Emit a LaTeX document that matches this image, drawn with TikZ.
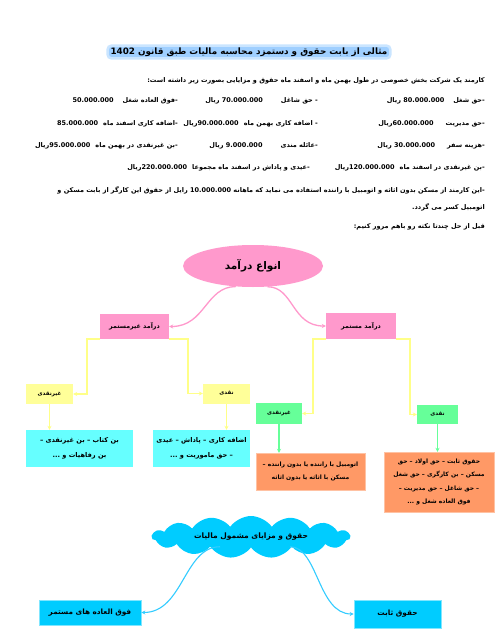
\documentclass[tikz,border=0pt]{standalone}
\usepackage{fontspec}
\usepackage{xcolor}
\usepackage{tikz}
\usetikzlibrary{arrows.meta,calc,shapes.geometric,shapes.symbols}
\newfontfamily\fafont[Script=Arabic]{DejaVu Sans}
\TeXXeTstate=1
\newcommand{\fa}[1]{\beginR #1\endR}
\newcommand{\en}[1]{\beginL #1\endL{}}
\definecolor{pinkfill}{HTML}{FF99CC}
\definecolor{yelfill}{HTML}{FFFF99}
\definecolor{yelline}{HTML}{FFFF88}
\definecolor{grnfill}{HTML}{66FF99}
\definecolor{cyanfill}{HTML}{66FFFF}
\definecolor{orgfill}{HTML}{FF9966}
\definecolor{skyfill}{HTML}{00CCFF}
\definecolor{skyline}{HTML}{33CCFF}
\definecolor{glowblue}{HTML}{9FCFFF}

\begin{document}
\begin{tikzpicture}[x=1pt,y=-1pt,>=Stealth,
  txt/.style={font=\fafont\bfseries\fontsize{6.5}{8}\selectfont,inner sep=0pt,anchor=east},
  box/.style={font=\fafont\bfseries\fontsize{6}{13}\selectfont,align=center,inner sep=1pt},
  pinkbox/.style={box,fill=pinkfill,minimum width=69,minimum height=25,font=\fafont\bfseries\fontsize{6.3}{8}\selectfont},
  yelbox/.style={box,fill=yelfill,minimum width=47,minimum height=20,font=\fafont\bfseries\fontsize{5.5}{7}\selectfont},
  grnbox/.style={yelbox,fill=grnfill},
  cyanbox/.style={box,fill=cyanfill,minimum height=37,font=\fafont\bfseries\fontsize{6.6}{14.5}\selectfont},
  orgbox/.style={box,fill=orgfill,draw=orgfill!60!white,line width=0.4pt},
  skybox/.style={box,fill=skyfill,draw=skyfill!50!white,line width=0.6pt,font=\fafont\bfseries\fontsize{7.3}{9}\selectfont},
  pinkarr/.style={draw=pinkfill,line width=1.3pt,-{Stealth[length=4pt,width=4pt]}},
  yelarr/.style={draw=yelline,line width=1.5pt,-{Stealth[length=4pt,width=4pt]}},
  grnarr/.style={draw=grnfill,line width=1.5pt,-{Stealth[length=4pt,width=4pt]}},
  skyarr/.style={draw=skyline,line width=1.1pt,-{Stealth[length=4pt,width=4pt]}}]
  \useasboundingbox[fill=white] (0,0) rectangle (496,642);
  % ---- title and data ----
  \node[fill=glowblue,draw=glowblue!55,line width=2.5pt,rounded corners=4pt,
    inner xsep=3pt,inner ysep=2pt,font=\fafont\bfseries\fontsize{8.8}{11}\selectfont]
    (title) at (249,52) {\fa{مثالی از بابت حقوق و دستمزد محاسبه مالیات طبق قانون \en{1402}}};
  \node[txt] (intro) at (485,81) {\fa{کارمند یک شرکت بخش خصوصی در طول بهمن ماه و اسفند ماه حقوق و مزایایی بصورت زیر داشته است:}};
  \node[txt] (r1a) at (485,101) {\fa{-حق شغل\hspace{9pt}\en{80.000.000} ریال}};
  \node[txt] (r1b) at (318,101) {\fa{- حق شاغل\hspace{18pt}\en{70.000.000} ریال}};
  \node[txt] (r1c) at (178,101) {\fa{-فوق العاده شغل\hspace{9pt}\en{50.000.000}}};
  \node[txt] (r2a) at (485,124) {\fa{-حق مدیریت\hspace{12pt}\en{60.000.000}ریال}};
  \node[txt] (r2b) at (318,124) {\fa{- اضافه کاری بهمن ماه\hspace{5pt}\en{90.000.000}ریال}};
  \node[txt] (r2c) at (178,124) {\fa{-اضافه کاری اسفند ماه\hspace{5pt}\en{85.000.000}}};
  \node[txt] (r3a) at (485,146) {\fa{-هزینه سفر\hspace{12pt}\en{30.000.000} ریال}};
  \node[txt] (r3b) at (318,146) {\fa{-عائله مندی\hspace{18pt}\en{9.000.000} ریال}};
  \node[txt] (r3c) at (178,146) {\fa{-بن غیرنقدی در بهمن ماه\hspace{5pt}\en{95.000.000}ریال}};
  \node[txt] (r4a) at (485,168) {\fa{-بن غیرنقدی در اسفند ماه\hspace{5pt}\en{120.000.000}ریال}};
  \node[txt] (r4b) at (310,168) {\fa{-عیدی و پاداش در اسفند ماه مجموعا\hspace{5pt}\en{220.000.000}ریال}};
  \node[txt] (note1) at (485,190) {\fa{-این کارمند از مسکن بدون اثاثه و اتومبیل با راننده استفاده می نماید که ماهانه \en{10.000.000} رایل از حقوق این کارگر از بابت مسکن و}};
  \node[txt] (note2) at (485,207) {\fa{اتومبیل کسر می گردد.}};
  \node[txt] (note3) at (485,227) {\fa{قبل از حل چندتا نکته رو باهم مرور کنیم:}};
  % ---- income tree ----
  \node[ellipse,fill=pinkfill,minimum width=140,minimum height=42,
    font=\fafont\bfseries\fontsize{10.5}{12}\selectfont] (ell) at (253,266) {\fa{انواع درآمد}};
  \node[pinkbox] (lnr) at (134.5,326.5) {\fa{درآمد غیرمستمر}};
  \node[pinkbox,minimum width=70,minimum height=26] (lr) at (361,326) {\fa{درآمد مستمر}};
  \node[yelbox] (lync) at (49.5,394) {\fa{غیرنقدی}};
  \node[yelbox] (lyc) at (226.5,393.5) {\fa{نقدی}};
  \node[cyanbox,minimum width=107] (lcb1) at (79.5,448.5)
    {\fa{بن کتاب – بن غیرنقدی –}\\ \fa{بن رفاهیات و ...}};
  \node[cyanbox,minimum width=97] (lcb2) at (201.5,448.5)
    {\fa{اضافه کاری – پاداش – عیدی}\\ \fa{– حق ماموریت و ...}};
  \node[grnbox,minimum width=46,minimum height=21] (rgnc) at (279,413.5) {\fa{غیرنقدی}};
  \node[grnbox,minimum width=41,minimum height=19] (rgc) at (437.5,414.5) {\fa{نقدی}};
  \node[orgbox,minimum width=109,minimum height=37] (rob1) at (310.5,471.5)
    {\fa{اتومبیل با راننده یا بدون راننده –}\\ \fa{مسکن با اثاثه یا بدون اثاثه}};
  \node[orgbox,minimum width=110,minimum height=60,font=\fafont\bfseries\fontsize{6}{13.3}\selectfont] (rob2) at (439,482)
    {\fa{حقوق ثابت – حق اولاد – حق}\\ \fa{مسکن – بن کارگری – حق شغل}\\
     \fa{– حق شاغل – حق مدیریت –}\\ \fa{فوق العاده شغل و ...}};
  \draw[pinkarr] (ell.230) .. controls +(-30,0) and +(36,0) .. (lnr.east);
  \draw[pinkarr] (ell.305) .. controls +(26,0) and +(-34,0) .. (lr.west);
  \draw[yelarr] (lnr.south west) -- ++(-13,0) |- (lync.east);
  \draw[yelarr] (lnr.south east) -- ++(19,0) |- (lyc.west);
  \draw[yelarr] (lr.south west) -- ++(-13,0) |- (rgnc.east);
  \draw[yelarr] (lr.south east) -- ++(14,0) |- (rgc.west);
  \draw[yelarr] (lync.south) -- (lync.south |- lcb1.north);
  \draw[yelarr] (lyc.south) -- (lyc.south |- lcb2.north);
  \draw[grnarr] (rgnc.south) -- (rgnc.south |- rob1.north);
  \draw[grnarr] (rgc.south) -- (rgc.south |- rob2.north);
  % ---- taxable pay ----
  \node[cloud,cloud puffs=15,cloud puff arc=110,cloud ignores aspect,fill=skyfill,
    minimum width=198,minimum height=42,inner sep=1pt,
    font=\fafont\bfseries\fontsize{7.5}{9}\selectfont] (cl) at (251,537) {\fa{حقوق و مزایای مشمول مالیات}};
  \node[skybox,minimum width=102,minimum height=25] (bl) at (90,612.5) {\fa{فوق العاده های مستمر}};
  \node[skybox,minimum width=87,minimum height=28] (br) at (397.5,614) {\fa{حقوق ثابت}};
  \draw[skyarr] (cl.south) ++(-31,-1) .. controls +(-36,0) and +(42,0) .. (bl.east);
  \draw[skyarr] (cl.south) ++(39,-1) .. controls +(28,0) and +(-36,0) .. (br.west);
\end{tikzpicture}
\end{document}
